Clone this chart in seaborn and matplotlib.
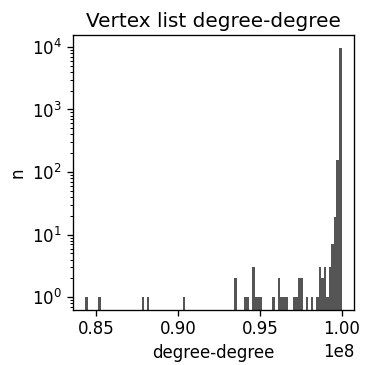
import matplotlib
matplotlib.use("Agg")
import matplotlib.pyplot as plt
import seaborn as sns
import numpy as np

# histogram of degree-degree values (100 bins), counts
degree_min = 0.8437e8
degree_max = 0.99985e8
n_bins = 100
bin_index = [0, 5, 22, 24, 38, 58, 62, 63, 65, 66, 67, 68, 73, 75, 76, 77, 78,
             81, 82, 83, 84, 86, 88, 90, 91, 92, 93, 94, 95, 96, 97, 98, 99]
bin_count = [1, 1, 1, 1, 1, 2, 1, 1, 3, 1, 1, 1, 1, 2, 1, 1, 1,
             1, 1, 2, 2, 1, 1, 1, 3, 2, 3, 1, 3, 7, 19, 156, 9776]

width = (degree_max - degree_min) / n_bins
centers = degree_min + (np.array(bin_index) + 0.5) * width

plt.rcParams.update({
    "font.size": 12,
    "axes.linewidth": 0.96,
    "xtick.major.size": 4.2, "ytick.major.size": 4.2,
    "xtick.minor.size": 2.4, "ytick.minor.size": 2.4,
    "xtick.major.width": 0.96, "ytick.major.width": 0.96,
    "xtick.minor.width": 0.72, "ytick.minor.width": 0.72,
})

fig = plt.figure(figsize=(3.65, 3.65), dpi=100)
ax = fig.add_axes([0.199, 0.1515, 0.772, 0.7525])

sns.histplot(x=centers, weights=bin_count, bins=n_bins,
             binrange=(degree_min, degree_max), color="#555555",
             alpha=1, edgecolor="none", linewidth=0, ax=ax)
ax.set_yscale("log")
ax.autoscale_view()

ax.set_title("Vertex list degree-degree", fontsize=14.4)
ax.set_xlabel("degree-degree")
ax.set_ylabel("n")
ax.set_xticks([0.85e8, 0.90e8, 0.95e8, 1.00e8])

fig.savefig("out.png", dpi=100)
